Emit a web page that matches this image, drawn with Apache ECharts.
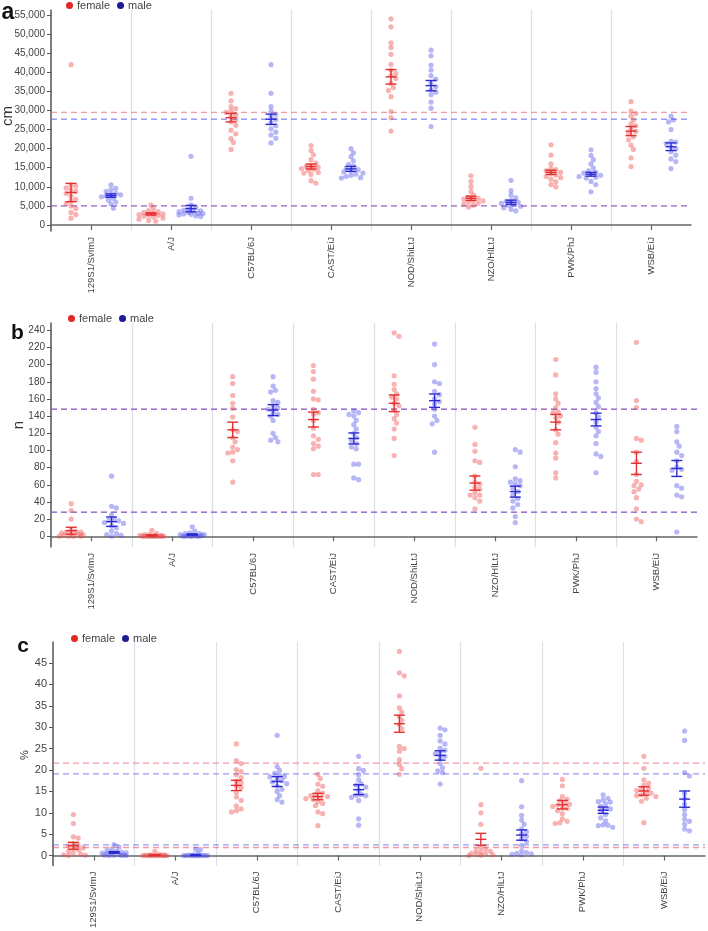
<!DOCTYPE html>
<html>
<head>
<meta charset="utf-8">
<script src="https://cdn.jsdelivr.net/npm/echarts@6/dist/echarts.min.js"></script>
<style>
html,body{margin:0;padding:0;background:#fff;}
#chart{width:708px;height:931px;}
</style>
</head>
<body>
<div id="chart"></div>
<script>
const strains = ['129S1/SvImJ','A/J','C57BL/6J','CAST/EiJ','NOD/ShiLtJ','NZO/HlLtJ','PWK/PhJ','WSB/EiJ'];

// ---- panel a (cm) ----
const aTicks = [0,5000,10000,15000,20000,25000,30000,35000,40000,45000,50000,55000];
const aFemale = [
 [42000,10500,10200,9700,9200,8800,8300,7600,6700,6300,5600,5000,4300,3300,2700,1800],
 [5200,4200,3800,3500,3300,3000,2900,2700,2500,2300,2100,1800,1500,1200,1000,2600],
 [34500,32500,31000,30500,29800,29500,28900,28300,27700,27000,26100,24800,23900,22600,21600,19800],
 [20800,19500,18400,17100,16200,15600,15100,14800,14300,13800,13200,11600,11000,15300,14600,13600],
 [54000,51900,47700,46500,44700,42100,40600,39700,39100,38400,37100,36000,35200,33600,29700,28100,24600],
 [12900,11400,10100,8800,7800,7300,6800,6300,5700,5200,4700,6500,6000,5500,7000],
 [21000,18300,16000,14800,14200,13800,13100,12400,12000,11300,10600,10000,13500,14500,12700],
 [32300,29800,29200,27500,26000,25100,24000,23100,22300,20900,19800,17600,15300,28500,24500,26500]
];
const aMale = [
 [10500,9600,9200,8800,8300,8000,7900,7600,7400,7000,6500,6000,5500,4400],
 [18000,7000,5300,4600,4200,3900,3700,3500,3300,3100,2900,2600,2400,2200,3000,2800,3600],
 [42000,34500,31000,29800,29000,28300,27600,26800,26000,25200,24300,23600,22700,21500],
 [20000,18900,17900,16800,15900,14900,14500,13900,13300,13000,12700,12400,12300,14200,13600,15400],
 [45800,44300,41900,40600,39100,38200,37100,36200,35400,34800,34100,32200,30600,25800],
 [11700,9000,7800,7100,6400,6000,5400,4900,4500,4100,3700,5700,5200,6200],
 [19700,18200,17100,16000,14900,14200,13600,13000,12300,11400,10600,8700,13200,12700,13800,12500],
 [28500,27500,27000,25000,22000,21300,20500,19200,18300,17300,16600,14800,21700,20000]
];
const aFemaleMean = [8500,2900,28100,15300,38800,7000,13800,24600];
const aFemaleSem  = [2400,300,1100,650,1900,550,550,1200];
const aMaleMean   = [7700,4300,27700,14700,36500,5950,13300,20500];
const aMaleSem    = [450,850,1350,650,1350,550,500,1000];
const aRefFemale  = [29500,5000];
const aRefMale    = [27700,5000];

// ---- panel b (n) ----
const bTicks = [0,20,40,60,80,100,120,140,160,180,200,220,240];
const bFemale = [
 [38,30,20,8,5,4,3,2,1,0,0,0,0,6,5,2],
 [7,3,2,2,1,1,1,0,0,0,0,0,0,0,0,0,0],
 [186,178,164,155,149,139,124,115,104,101,98,97,88,63,122,110],
 [199,192,183,169,160,159,148,144,142,135,126,117,113,108,105,102,72,72],
 [237,233,187,177,171,166,162,152,147,142,137,132,125,114,94,160,155],
 [127,107,99,88,86,70,63,61,57,51,48,45,41,32,55,48],
 [206,188,166,160,155,150,144,140,133,124,119,109,97,91,74,68,145,138],
 [226,158,150,114,112,98,87,72,64,59,55,45,32,20,17,60,52]
];
const bMale = [
 [70,35,33,25,20,18,15,12,10,6,3,1,0,2,16,19],
 [11,6,4,3,3,2,2,1,1,1,0,0,0,0,0,0],
 [186,175,170,168,156,150,145,140,135,120,115,112,110,148,152,142,158],
 [146,144,142,140,135,130,125,120,115,112,108,104,102,84,84,68,66],
 [224,200,180,178,169,165,160,157,154,148,140,135,131,98],
 [101,98,81,67,65,63,61,59,56,52,48,44,41,37,33,23,16],
 [197,191,180,172,166,161,156,151,144,139,133,127,122,117,108,96,93,74],
 [128,122,110,105,98,94,81,77,59,56,48,46,5,88,78]
];
const bFemaleMean = [6.5,1,124,136,155,62,133,85];
const bFemaleSem  = [4,0.5,9,8.7,9.7,8.3,9,13];
const bMaleMean   = [17,2,147,114,158,52,136,79];
const bMaleSem    = [5.5,0.8,6.4,6.4,7.8,6.4,7.4,9.3];
const bRefFemale  = [148,28];
const bRefMale    = [148,28];

// ---- panel c (%) ----
const cTicks = [0,5,10,15,20,25,30,35,40,45];
const cFemale = [
 [9.6,7.5,4.4,4.1,2.8,2.3,1.7,1.4,1.0,0.6,0.4,0.2,0.1,0,1.8,2.5],
 [1.0,0.3,0.2,0.1,0.1,0,0,0,0,0,0,0,0,0,0],
 [26.1,22.2,21.5,20.1,19.6,18.9,17.4,15.9,14.8,13.7,12.9,11.6,10.5,10.2,10.9,17.0,18.2,16.3],
 [19.0,18.0,16.7,16.2,15.1,14.6,14.1,13.8,13.5,13.1,12.6,11.7,10.2,9.8,7.0,14.0,13.3,12.2],
 [47.7,42.7,42.0,37.3,34.5,33.5,32.5,31.6,30.6,29.6,25.5,25.0,24.4,22.4,21.3,20.3,19.0],
 [20.4,11.9,10.0,7.3,1.9,1.5,1.2,0.8,0.4,0.2,0.1,0.5,1.0,0.3,0],
 [17.8,16.3,13.8,13.2,12.8,12.2,11.8,11.5,11.1,10.5,9.8,8.6,7.7,7.5,12.0,11.0,8.0],
 [23.2,20.4,17.7,16.9,16.5,15.8,15.2,14.6,14.0,13.4,12.7,7.7,15.5,14.8,14.2,13.8]
];
const cMale = [
 [2.6,2.0,1.6,1.2,1.0,0.8,0.7,0.6,0.5,0.4,0.3,0.2,0.1,0.1,0,0,0],
 [1.5,1.4,0.5,0.2,0.1,0.1,0,0,0,0,0,0,0,0,0],
 [28.1,20.8,19.9,19.2,18.7,18.4,17.8,17.2,16.8,16.2,15.5,15.0,14.0,13.1,12.5,18.5,17.5],
 [23.2,20.3,19.9,18.9,17.7,16.8,16.0,15.3,14.3,14.1,13.6,12.9,8.6,7.1,14.0,16.5],
 [29.8,29.4,28.1,26.8,26.1,25.1,24.6,23.8,22.8,21.5,20.5,19.8,19.4,16.7,23.2,24.0],
 [17.5,11.4,9.4,8.3,7.3,6.2,5.6,5.0,4.5,3.9,3.3,2.4,1.2,0.7,0.5,0.2,0.4,0.3],
 [14.2,13.4,12.6,12.1,11.5,10.9,10.4,9.6,8.8,8.1,7.1,6.6,13.0,12.5,11.0,7.2,7.0],
 [29.1,26.9,19.4,18.6,14.5,13.3,10.8,9.6,8.5,7.3,6.2,5.8,12.0,8.0]
];
const cFemaleMean = [2.3,0.1,16.4,13.8,30.8,3.8,11.9,15.1];
const cFemaleSem  = [0.8,0.07,1.2,0.75,2.0,1.4,1.0,1.0];
const cMaleMean   = [0.75,0.1,17.3,15.4,23.4,4.8,10.6,13.2];
const cMaleSem    = [0.2,0.05,1.15,1.15,1.1,1.2,0.75,1.9];
const cRefFemale  = [21.6,1.9];
const cRefMale    = [19.1,2.5];

// ---------------- rendering ----------------
const FONT = '"Liberation Sans", Arial, sans-serif';
const COL = {
  fPt: 'rgba(238,72,72,0.42)', mPt: 'rgba(75,75,232,0.40)',
  fBar: '#e3302f', mBar: '#2b2bd4',
  fRef: 'rgba(236,100,120,0.65)', mRef: 'rgba(100,100,232,0.65)',
  fLeg: '#e52424', mLeg: '#1c1c96'
};

function swarm(ys) {
  const order = ys.map((y, i) => i).sort((a, b) => ys[a] - ys[b]);
  const placed = [], off = new Array(ys.length);
  const step = 2.4, maxOff = 12, minD = 4.4;
  const cands = [0];
  for (let k = 1; k * step <= maxOff; k++) cands.push(k * step, -k * step);
  for (const i of order) {
    let best = 0, bestScore = -1;
    for (const c of cands) {
      let md = Infinity;
      for (const p of placed) { const d = Math.hypot(p[0] - c, p[1] - ys[i]); if (d < md) md = d; }
      if (md >= minD) { best = c; bestScore = Infinity; break; }
      if (md > bestScore) { bestScore = md; best = c; }
    }
    placed.push([best, ys[i]]); off[i] = best;
  }
  return off;
}

function pointRender(groups, color) {
  const cache = {};
  return function (params, api) {
    const g = api.value(2), j = api.value(3);
    if (!cache[g]) cache[g] = swarm(groups[g].map(v => api.coord([0, v])[1]));
    const p = api.coord([api.value(0), api.value(1)]);
    return { type: 'circle', shape: { cx: p[0] + cache[g][j], cy: p[1], r: 2.6 }, style: { fill: color } };
  };
}

function barRender(color) {
  return function (params, api) {
    const x = api.value(0), m = api.value(1), s = api.value(2);
    const c = api.coord([x, m]), t = api.coord([x, m + s]), b = api.coord([x, m - s]);
    const w = 5.5, st = { stroke: color, lineWidth: 1.4 };
    return { type: 'group', children: [
      { type: 'line', shape: { x1: c[0], y1: t[1], x2: c[0], y2: b[1] }, style: st },
      { type: 'line', shape: { x1: c[0] - w, y1: t[1], x2: c[0] + w, y2: t[1] }, style: st },
      { type: 'line', shape: { x1: c[0] - w, y1: b[1], x2: c[0] + w, y2: b[1] }, style: st },
      { type: 'line', shape: { x1: c[0] - w, y1: c[1], x2: c[0] + w, y2: c[1] }, style: st }
    ]};
  };
}

function refRender(color) {
  return function (params, api) {
    const v = api.value(1);
    const p0 = api.coord([0, v]), p1 = api.coord([strains.length, v]);
    return { type: 'line', shape: { x1: p0[0], y1: p0[1], x2: p1[0], y2: p1[1] },
      style: { stroke: color, lineWidth: 1.4, lineDash: [6, 4] } };
  };
}

const panels = [
  { grid: { left: 51, top: 10, width: 640, height: 221 }, min: -1571, max: 56310, ticks: aTicks, fmt: v => String(v).replace(/\B(?=(\d{3})+(?!\d))/g, ','), lblSize: 10,
    F: aFemale, M: aMale, fm: aFemaleMean, fs: aFemaleSem, mm: aMaleMean, ms: aMaleSem, rf: aRefFemale, rm: aRefMale,
    legend: { left: 66, top: 0 } },
  { grid: { left: 51, top: 323, width: 646, height: 224 }, min: -12.5, max: 248.5, ticks: bTicks, fmt: v => String(v), lblSize: 10,
    F: bFemale, M: bMale, fm: bFemaleMean, fs: bFemaleSem, mm: bMaleMean, ms: bMaleSem, rf: bRefFemale, rm: bRefMale,
    legend: { left: 68, top: 313 } },
  { grid: { left: 53, top: 642, width: 652, height: 226 }, min: -2.31, max: 49.9, ticks: cTicks, fmt: v => String(v), lblSize: 11,
    F: cFemale, M: cMale, fm: cFemaleMean, fs: cFemaleSem, mm: cMaleMean, ms: cMaleSem, rf: cRefFemale, rm: cRefMale,
    legend: { left: 71, top: 633 } }
];

const option = { animation: false, backgroundColor: '#fff', grid: [], xAxis: [], yAxis: [], series: [], legend: [], graphic: [] };

panels.forEach((P, p) => {
  option.grid.push(P.grid);
  option.xAxis.push({
    type: 'category', gridIndex: p, position: 'bottom', data: strains, boundaryGap: true,
    axisLine: { show: true, lineStyle: { color: '#666', width: 1.5 } },
    axisTick: { show: true, alignWithLabel: true, length: 5, lineStyle: { color: '#666', width: 1.2 } },
    axisLabel: { rotate: 90, fontSize: 9.5, color: '#444', fontFamily: FONT, margin: 6, interval: 0 },
    splitLine: { show: false }
  });
  option.xAxis.push({
    type: 'value', gridIndex: p, position: 'top', min: 0, max: strains.length, interval: 1,
    axisLine: { show: false }, axisTick: { show: false }, axisLabel: { show: false },
    splitLine: { show: true, showMinLine: false, showMaxLine: false, lineStyle: { color: '#dcdfe8', width: 1.2 } }
  });
  option.yAxis.push({
    type: 'value', gridIndex: p, min: P.min, max: P.max,
    axisLine: { show: true, lineStyle: { color: '#555', width: 1.5 } },
    axisTick: { show: true, length: 4, customValues: P.ticks, lineStyle: { color: '#555' } },
    axisLabel: { customValues: P.ticks, formatter: P.fmt, fontSize: P.lblSize, color: '#444', fontFamily: FONT, margin: 6 },
    splitLine: { show: false }
  });
  const xi = 2 * p + 1;
  option.series.push({ type: 'custom', name: 'female', xAxisIndex: xi, yAxisIndex: p, renderItem: refRender(COL.fRef), silent: true, z: 1,
    data: P.rf.map(v => [0, v]) });
  option.series.push({ type: 'custom', name: 'male', xAxisIndex: xi, yAxisIndex: p, renderItem: refRender(COL.mRef), silent: true, z: 1,
    data: P.rm.map(v => [0, v]) });
  const fData = [], mData = [];
  P.F.forEach((arr, g) => arr.forEach((v, j) => fData.push([g + 0.25, v, g, j])));
  P.M.forEach((arr, g) => arr.forEach((v, j) => mData.push([g + 0.75, v, g, j])));
  option.series.push({ type: 'custom', name: 'female', xAxisIndex: xi, yAxisIndex: p, renderItem: pointRender(P.F, COL.fPt), z: 2, data: fData });
  option.series.push({ type: 'custom', name: 'male', xAxisIndex: xi, yAxisIndex: p, renderItem: pointRender(P.M, COL.mPt), z: 2, data: mData });
  option.series.push({ type: 'custom', name: 'female', xAxisIndex: xi, yAxisIndex: p, renderItem: barRender(COL.fBar), z: 3,
    data: P.fm.map((m, g) => [g + 0.25, m, P.fs[g]]) });
  option.series.push({ type: 'custom', name: 'male', xAxisIndex: xi, yAxisIndex: p, renderItem: barRender(COL.mBar), z: 3,
    data: P.mm.map((m, g) => [g + 0.75, m, P.ms[g]]) });
  option.legend.push({
    left: P.legend.left, top: P.legend.top, padding: 0, itemGap: 7, itemWidth: 7, itemHeight: 7, icon: 'circle', selectedMode: false,
    textStyle: { fontSize: 11, color: '#444', fontFamily: FONT, padding: [0, 0, 0, -1] },
    data: [{ name: 'female', itemStyle: { color: COL.fLeg } }, { name: 'male', itemStyle: { color: COL.mLeg } }]
  });
});

const letters = [['a', 8, 13, 23], ['b', 17.5, 333, 21], ['c', 23, 646, 21]];
letters.forEach(l => option.graphic.push({ type: 'text', x: l[1], y: l[2], silent: true,
  style: { text: l[0], x: 0, y: 0, textAlign: 'center', textVerticalAlign: 'middle', font: 'bold ' + l[3] + 'px ' + FONT, fill: '#111' } }));
const names = [['cm', 7.5, 116, 15], ['n', 18.5, 425, 15], ['%', 25, 755, 11]];
names.forEach(n => option.graphic.push({ type: 'text', x: n[1], y: n[2], rotation: Math.PI / 2, silent: true,
  style: { text: n[0], x: 0, y: 0, textAlign: 'center', textVerticalAlign: 'middle', font: n[3] + 'px ' + FONT, fill: '#333' } }));

const chart = echarts.init(document.getElementById('chart'), null, { renderer: 'canvas' });
chart.setOption(option);
</script>
</body>
</html>
